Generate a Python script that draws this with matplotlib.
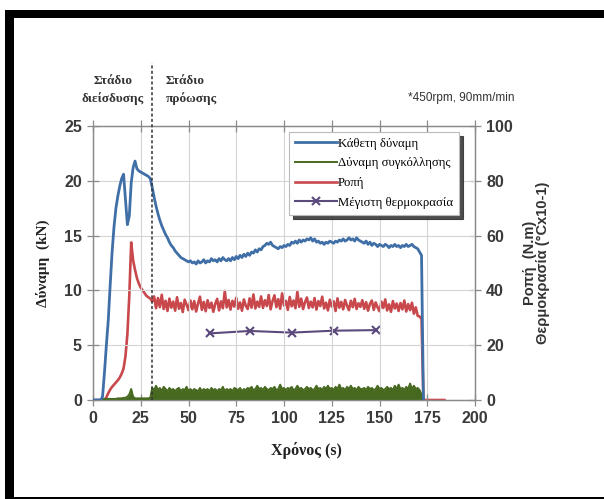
import numpy as np
import matplotlib
matplotlib.use("Agg")
import matplotlib.pyplot as plt
from matplotlib.patches import Rectangle

# Κάθετη δύναμη (kN), ένα δείγμα ανά δευτερόλεπτο από t = 0
normal_force = [
    0, 0, 0, 0, 0, 0.3, 2.5, 5.0, 7.3, 10.5,
    13.5, 15.8, 17.5, 18.6, 19.5, 20.2, 20.6, 18.3, 16.0, 16.8,
    19.8, 21.2, 21.8, 21.1, 20.9, 20.8, 20.7, 20.6, 20.5, 20.4,
    20.2, 19.4, 18.5, 17.7, 17.0, 16.4, 15.9, 15.5, 15.1, 14.8,
    14.4, 14.1, 13.9, 13.6, 13.4, 13.2, 13.0, 12.9, 12.8, 12.7,
    12.6, 12.7, 12.5, 12.6, 12.4, 12.7, 12.5, 12.6, 12.8, 12.5,
    12.7, 12.6, 12.9, 12.7, 12.8, 12.6, 12.9, 12.7, 13.0, 12.8,
    12.7, 12.9, 12.7, 13.0, 12.8, 13.1, 12.9, 13.2, 13.0, 13.3,
    13.1, 13.4, 13.2, 13.5, 13.4, 13.7, 13.5, 13.8, 13.7, 14.0,
    14.1, 14.3, 14.2, 14.4, 14.1, 14.0, 13.9, 13.8, 14.0, 13.9,
    14.1, 14.0, 14.2, 14.1, 14.4, 14.3, 14.5, 14.3, 14.6, 14.4,
    14.6, 14.5, 14.7, 14.6, 14.8, 14.5, 14.7, 14.4, 14.5, 14.3,
    14.4, 14.2, 14.4, 14.3, 14.5, 14.4, 14.3, 14.5, 14.4, 14.6,
    14.5, 14.7, 14.5, 14.6, 14.8, 14.6, 14.7, 14.5, 14.8, 14.6,
    14.5, 14.4, 14.3, 14.5, 14.2, 14.4, 14.1, 14.3, 14.2, 14.0,
    14.2, 14.1, 14.0, 14.2, 14.1, 13.9, 14.1, 14.0, 14.2, 14.0,
    14.1, 13.9, 14.1, 14.0, 14.2, 14.0, 14.1, 14.2, 14.0, 13.9,
    13.8, 13.5, 13.2, 0.0,
]

# Δύναμη συγκόλλησης (kN)
weld_force = [
    0, 0, 0, 0, 0, 0.05, 0.1, 0.1, 0.1, 0.1,
    0.1, 0.1, 0.1, 0.15, 0.15, 0.15, 0.2, 0.2, 0.3, 0.5,
    1.0, 0.3, 0.15, 0.15, 0.15, 0.15, 0.15, 0.15, 0.15, 0.15,
    0.2, 1.1,
    0.9, 1.3, 0.9, 1.1, 0.8, 1.2, 1.0, 0.8, 1.1, 0.9,
    1.0, 0.8, 1.0, 1.1, 0.8, 1.0, 0.9, 1.2, 0.8, 1.0,
    0.8, 1.0, 0.9, 0.8, 1.1, 0.8, 1.0, 0.9, 1.0, 0.8,
    1.1, 0.9, 1.0, 0.8, 1.0, 0.9, 1.2, 0.8, 1.0, 0.9,
    1.0, 0.8, 1.1, 1.0, 0.9, 1.1, 0.8, 1.0, 0.9, 1.1,
    1.0, 1.2, 0.9, 1.0, 1.3, 1.0, 1.1, 0.9, 1.2, 1.0,
    0.9, 1.1, 1.0, 1.2, 0.9, 1.0, 1.4, 1.0, 1.1, 0.9,
    1.1, 1.0, 1.2, 0.9, 1.0, 1.3, 1.0, 1.1, 0.9, 1.0,
    1.2, 1.0, 1.1, 0.9, 1.0, 1.3, 1.0, 1.1, 0.9, 1.2,
    1.0, 1.3, 1.0, 1.1, 0.9, 1.2, 1.0, 1.4, 1.0, 1.1,
    0.9, 1.2, 1.0, 1.3, 1.0, 1.1, 0.9, 1.2, 1.0, 1.0,
    1.1, 0.9, 1.2, 1.0, 1.1, 0.9, 1.0, 1.3, 1.0, 1.1,
    0.9, 1.0, 1.2, 1.0, 1.1, 0.9, 1.3, 1.0, 1.4, 1.0,
    1.1, 0.9, 1.2, 1.0, 1.5, 1.0, 1.3, 1.0, 1.1, 0.9,
    0.5, 0.0,
]

# Ροπή (N.m)
torque = [
    0, 0, 0, 0, 0, 0, 0, 1.0, 2.5, 3.8,
    4.8, 5.6, 6.4, 7.2, 8.2, 9.6, 11.5, 16.0, 24.0, 38.0,
    57.5, 51.0, 47.5, 44.5, 42.5, 41.0, 40.0, 39.0, 38.0, 37.5,
    37.0, 36.0,
    37.8, 33.5, 37.2, 33.9, 38.4, 33.2, 36.2, 32.5, 37.0, 33.7,
    35.9, 32.6, 37.5, 33.3, 35.4, 32.1, 36.6, 34.8, 32.8, 36.3,
    33.1, 36.1, 32.3, 35.2, 37.7, 32.9, 35.8, 32.4, 36.4, 33.6,
    35.5, 32.2, 35.1, 36.9, 32.7, 36.0, 33.5, 39.8, 33.8, 36.5,
    33.0, 36.2, 34.1, 37.3, 33.3, 35.6, 32.6, 36.7, 34.4, 33.2,
    37.1, 33.7, 38.5, 33.4, 35.9, 34.0, 37.8, 33.6, 36.4, 34.3,
    38.3, 33.1, 36.1, 38.2, 33.9, 36.8, 33.3, 38.9, 34.5, 36.2,
    32.9, 37.6, 34.2, 36.3, 33.5, 39.5, 34.0, 37.0, 33.2, 35.7,
    37.4, 33.6, 35.9, 33.8, 37.2, 33.0, 36.1, 34.3, 37.7, 33.4,
    35.5, 32.7, 36.6, 34.1, 36.0, 32.5, 37.1, 33.7, 35.8, 33.1,
    36.5, 34.4, 32.8, 36.2, 33.9, 36.9, 33.2, 35.3, 34.0, 36.4,
    33.3, 35.7, 32.6, 35.1, 36.3, 32.9, 35.6, 33.8, 32.4, 35.9,
    33.6, 36.7, 32.7, 34.9, 32.2, 36.1, 33.4, 35.2, 32.5, 35.4,
    33.1, 36.3, 32.3, 35.0, 32.8, 35.5, 31.5, 33.8, 30.7,
    30.5, 29.5, 0, 0, 0, 0, 0, 0, 0, 0,
    0, 0, 0, 0,
]

# Μέγιστη θερμοκρασία (°C x 10^-1)
temp_time = [61, 82, 104, 126, 148]
temp_max = [24.3, 25.2, 24.6, 25.3, 25.5]

x_ticks = [0, 25, 50, 75, 100, 125, 150, 175, 200]
left_ticks = [0, 5, 10, 15, 20, 25]
right_ticks = [0, 20, 40, 60, 80, 100]

blue = "#3f6fa6"
green = "#46691f"
red = "#c8484c"
purple = "#5b4a7c"
tick_color = "#3a3a3a"
serif = ["Liberation Serif", "DejaVu Serif"]

plt.rcParams["font.family"] = ["Liberation Sans", "DejaVu Sans"]

fig = plt.figure(figsize=(6.04, 4.99), dpi=100)
ax = fig.add_axes([93 / 604, 99 / 499, 382 / 604, 274 / 499])
ax2 = ax.twinx()

t_nf = np.arange(len(normal_force))
t_wf = np.arange(len(weld_force))
t_tq = np.arange(len(torque))

ax.fill_between(t_wf, 0, weld_force, color=green, lw=0, zorder=2)
l_green, = ax.plot(t_wf, weld_force, color=green, lw=1.4, zorder=3)
l_blue, = ax.plot(t_nf, normal_force, color=blue, lw=2.0, zorder=5)
l_red, = ax2.plot(t_tq, torque, color=red, lw=1.9, zorder=4)
l_purple, = ax2.plot(temp_time, temp_max, color=purple, lw=1.5,
                     marker="x", ms=6, mew=1.5, zorder=6)

ax.set_zorder(ax2.get_zorder() + 1)
ax.patch.set_visible(False)

ax.set_xlim(0, 200)
ax.set_ylim(0, 25)
ax2.set_ylim(0, 100)
ax.set_xticks(x_ticks)
ax.set_yticks(left_ticks)
ax2.set_yticks(right_ticks)

ax.grid(True, color="#d4d4d4", lw=0.8)
ax.set_axisbelow(True)
for a in (ax, ax2):
    for s in a.spines.values():
        s.set_color("#8a8a8a")
        s.set_linewidth(0.9)
ax.tick_params(axis="both", direction="inout", length=8, width=0.9,
               color="#8a8a8a", labelcolor=tick_color, labelsize=11.5,
               top=True, pad=4)
ax2.tick_params(axis="y", direction="inout", length=8, width=0.9,
                color="#8a8a8a", labelcolor=tick_color, labelsize=11.5, pad=4)
for lab in ax.get_xticklabels() + ax.get_yticklabels() + ax2.get_yticklabels():
    lab.set_fontweight("bold")

ax.set_xlabel("Χρόνος (s)", family=serif, fontsize=11.5, fontweight="bold",
              color="#222222")
ax.xaxis.set_label_coords((306 - 93) / 382, (400 - 442) / 274)
ax.set_ylabel("Δύναμη  (kN)", family=serif, fontsize=11, fontweight="bold",
              color="#222222", labelpad=10)
ax2.set_ylabel("Ροπή  (N.m)\nΘερμοκρασία (°Cx10-1)", fontsize=10.5,
               fontweight="bold", color="#333333", labelpad=7,
               linespacing=0.95)

# όριο σταδίου διείσδυσης / πρόωσης
ax.axvline(31, ymin=0, ymax=1.23, color="#333333", lw=1.1, ls=(0, (2, 1.5)),
           clip_on=False, zorder=7)

fig.text(113 / 604, 1 - 90 / 499, "Στάδιο\nδιείσδυσης", family=serif,
         fontsize=9.5, fontweight="bold", color="#333333", ha="center",
         va="center", linespacing=1.5)
fig.text(166 / 604, 1 - 90 / 499, "Στάδιο\nπρόωσης", family=serif,
         fontsize=9.5, fontweight="bold", color="#333333", ha="left",
         va="center", linespacing=1.5)
fig.text(515 / 604, 1 - 98 / 499, "*450rpm, 90mm/min", fontsize=8.5,
         color="#333333", ha="right", va="center")

leg = ax.legend([l_blue, l_green, l_red, l_purple],
                ["Κάθετη δύναμη", "Δύναμη συγκόλλησης", "Ροπή",
                 "Μέγιστη θερμοκρασία"],
                loc="upper right", bbox_to_anchor=(459 / 604, 1 - 132 / 499),
                bbox_transform=fig.transFigure,
                prop={"family": serif, "size": 9.2},
                frameon=True, fancybox=False,
                shadow={"ox": 3, "oy": -3, "color": "#2e2e2e", "alpha": 0.85},
                handlelength=3.3, handletextpad=0.1, labelspacing=0.6,
                borderpad=0.45, borderaxespad=0)
leg.get_frame().set_edgecolor("#bbbbbb")
leg.get_frame().set_linewidth(0.8)
leg.get_frame().set_alpha(1.0)

# μαύρο πλαίσιο γύρω από την εικόνα
W, H = 604, 499
for x0, y0, w, h in [(5, 10, 9, 489), (5, 10, 599, 8), (5, 497, 599, 2)]:
    fig.add_artist(Rectangle((x0 / W, 1 - (y0 + h) / H), w / W, h / H,
                             transform=fig.transFigure, color="black", lw=0))

fig.savefig("out.png", dpi=100)
